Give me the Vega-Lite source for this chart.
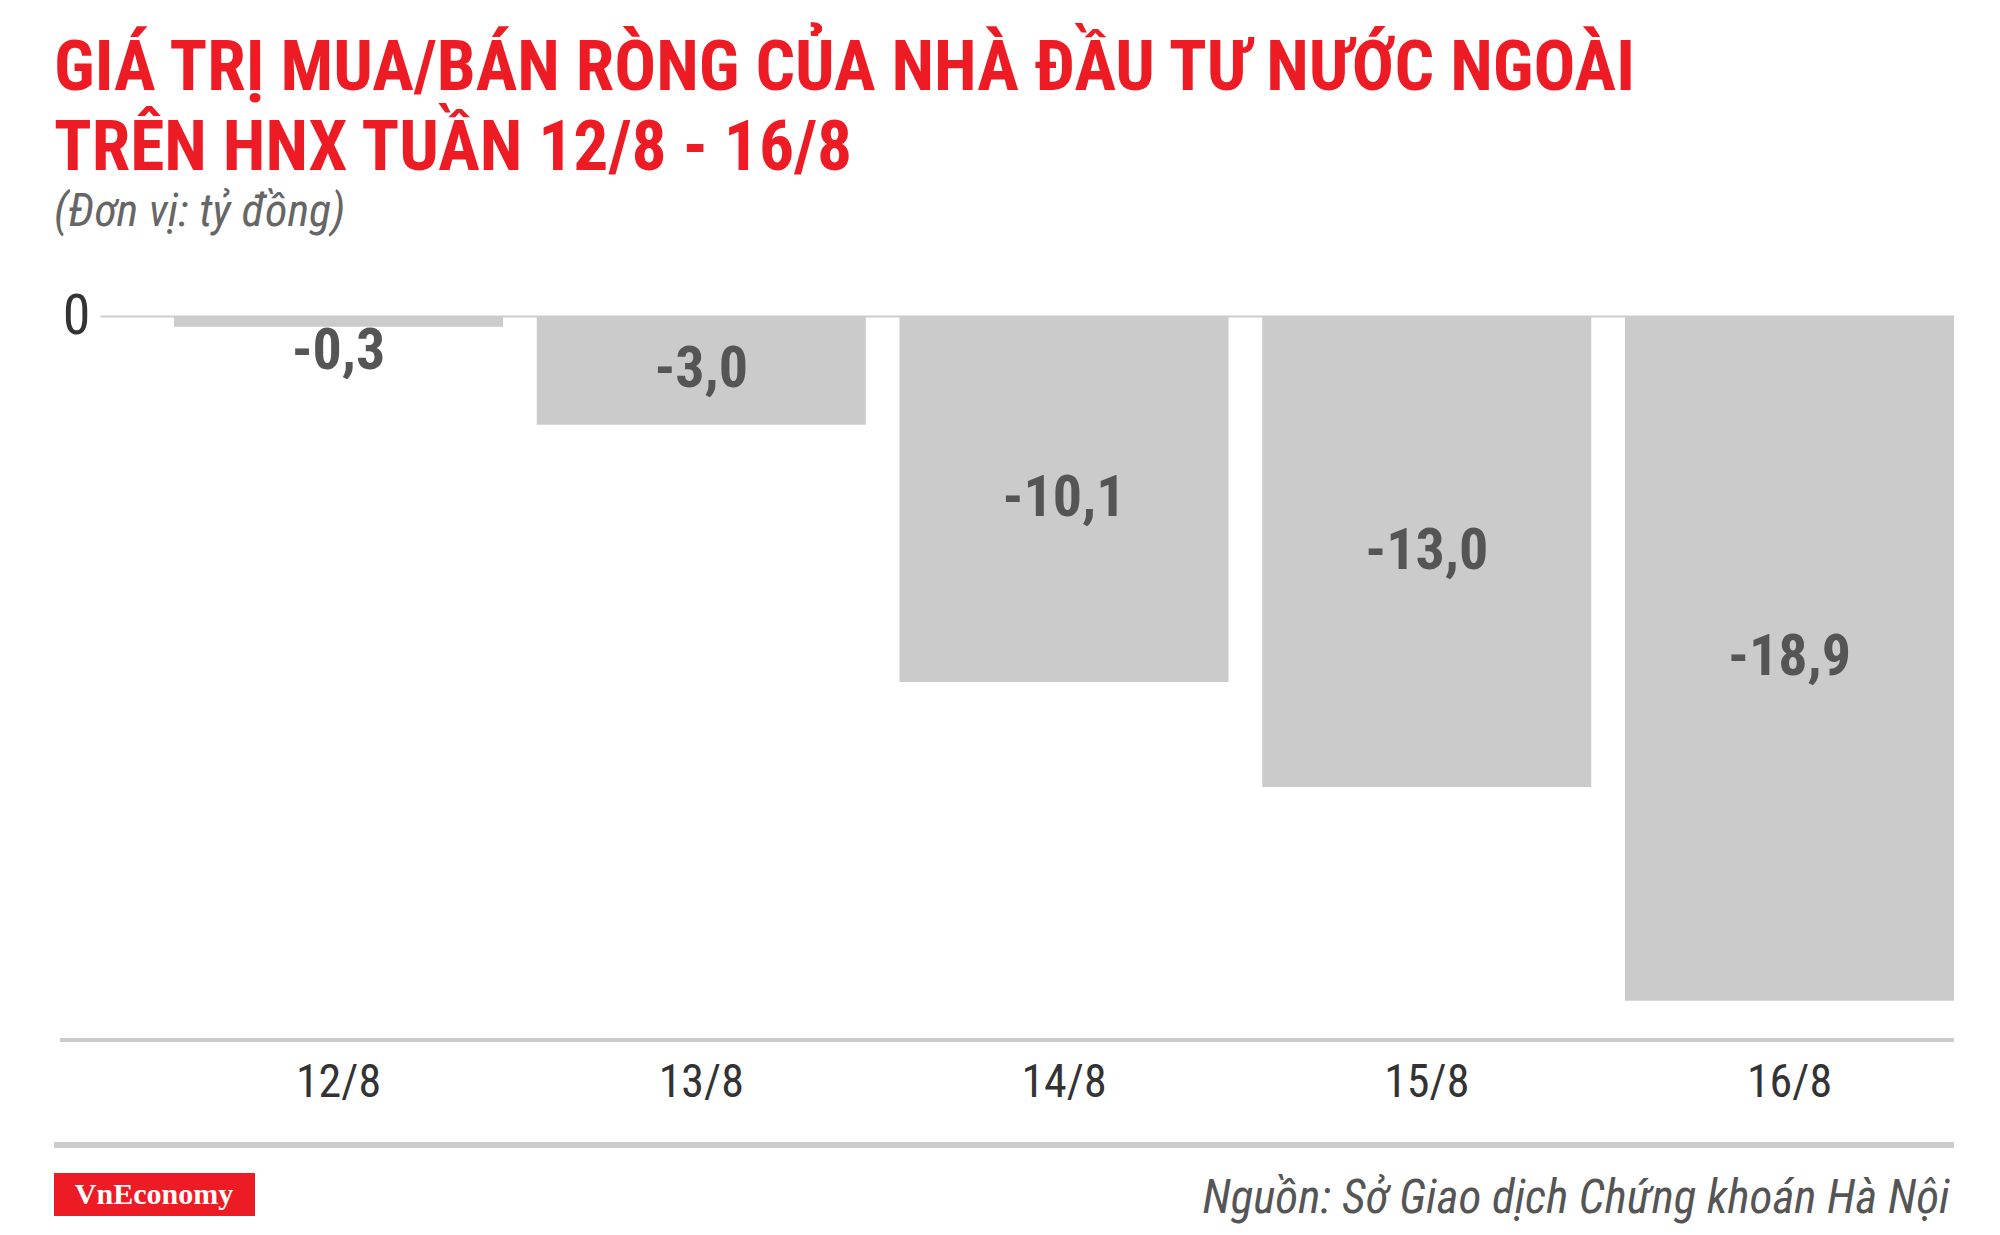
{
  "$schema": "https://vega.github.io/schema/vega-lite/v6.json",
  "autosize": "none",
  "width": 1854,
  "height": 724,
  "padding": {"left": 100, "top": 316, "right": 46, "bottom": 195},
  "background": "white",
  "config": {
    "view": {"stroke": null},
    "locale": {"number": {"decimal": ",", "thousands": ".", "grouping": [3], "currency": ["", ""], "minus": "-"}},
    "font": "Roboto Condensed, Liberation Sans Narrow, Roboto"
  },
  "title": {
    "text": ["GIÁ TRỊ MUA/BÁN RÒNG CỦA NHÀ ĐẦU TƯ NƯỚC NGOÀI", "TRÊN HNX TUẦN 12/8 - 16/8"],
    "subtitle": "(Đơn vị: tỷ đồng)",
    "anchor": "start",
    "frame": "group",
    "dx": -46,
    "offset": 52,
    "font": "Roboto Condensed, Liberation Sans Narrow, Roboto",
    "fontSize": 69.5,
    "fontWeight": "bold",
    "color": "#ed1c24",
    "lineHeight": 80,
    "subtitleFont": "Roboto Condensed, Liberation Sans Narrow, Roboto",
    "subtitleFontSize": 46,
    "subtitleFontStyle": "italic",
    "subtitleColor": "#666666",
    "subtitlePadding": 6
  },
  "data": {
    "values": [
      {"date": "12/8", "value": -0.3},
      {"date": "13/8", "value": -3.0},
      {"date": "14/8", "value": -10.1},
      {"date": "15/8", "value": -13.0},
      {"date": "16/8", "value": -18.9}
    ]
  },
  "layer": [
    {
      "mark": {"type": "bar", "color": "#cccbcc"},
      "encoding": {
        "x": {
          "field": "date",
          "type": "nominal",
          "sort": null,
          "scale": {"paddingInner": 0.093, "paddingOuter": 0.102, "align": 1},
          "axis": {
            "labelAngle": 0,
            "labelFontSize": 46,
            "labelColor": "#333333",
            "labelPadding": 20,
            "ticks": false,
            "domain": false,
            "title": "Nguồn: Sở Giao dịch Chứng khoán Hà Nội",
            "titleFontSize": 47,
            "titleFontStyle": "italic",
            "titleFontWeight": "normal",
            "titleColor": "#555555",
            "titleAlign": "right",
            "titleBaseline": "alphabetic",
            "titleX": 1849,
            "titleY": 172
          }
        },
        "y": {
          "field": "value",
          "type": "quantitative",
          "scale": {"domain": [-19.98, 0], "nice": false, "zero": false},
          "axis": {
            "values": [0],
            "title": null,
            "labelFontSize": 56,
            "labelColor": "#333333",
            "labelPadding": 10,
            "ticks": false,
            "domain": false,
            "grid": true,
            "gridColor": "#cccccc",
            "gridWidth": 2
          }
        }
      }
    },
    {
      "transform": [{"calculate": "min(datum.value / 2, -1)", "as": "labelY"}],
      "mark": {"type": "text", "fontSize": 58, "fontWeight": "bold", "color": "#555555", "baseline": "middle"},
      "encoding": {
        "x": {"field": "date", "type": "nominal", "sort": null},
        "y": {"field": "labelY", "type": "quantitative"},
        "text": {"field": "value", "type": "quantitative", "format": ".1f"}
      }
    },
    {
      "data": {"values": [{"line": "axis"}]},
      "mark": {"type": "rule", "color": "#cccccc", "strokeWidth": 4},
      "encoding": {"x": {"value": -40}, "x2": {"value": "width"}, "y": {"value": "height"}}
    },
    {
      "data": {"values": [{"line": "footer"}]},
      "mark": {"type": "rule", "color": "#cccccc", "strokeWidth": 6, "yOffset": 105},
      "encoding": {"x": {"value": -46}, "x2": {"value": "width"}, "y": {"value": "height"}}
    },
    {
      "data": {"values": [{"logo": "VnEconomy"}]},
      "mark": {"type": "rect", "color": "#ed1c24"},
      "encoding": {
        "x": {"value": -46},
        "x2": {"value": 155},
        "y": {"value": 857},
        "y2": {"value": 900}
      }
    },
    {
      "data": {"values": [{"logo": "VnEconomy"}]},
      "mark": {"type": "text", "color": "white", "font": "Liberation Serif", "fontWeight": "bold", "fontSize": 30, "align": "center", "baseline": "alphabetic"},
      "encoding": {
        "x": {"value": 54},
        "y": {"value": 888},
        "text": {"field": "logo"}
      }
    }
  ]
}
